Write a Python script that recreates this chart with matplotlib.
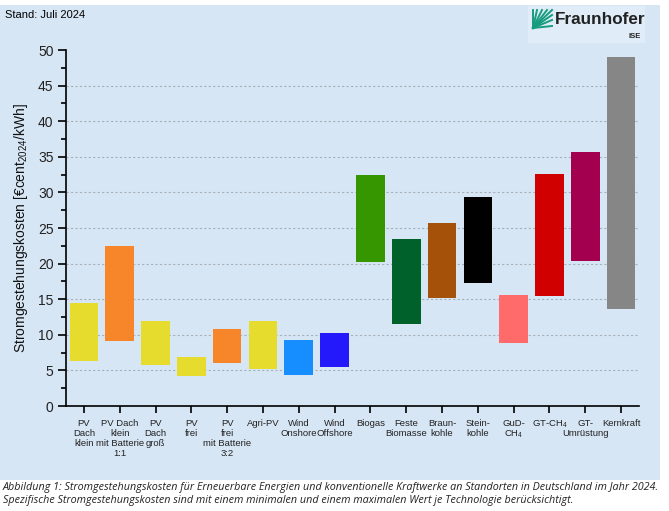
import matplotlib
matplotlib.use("Agg")
import matplotlib.pyplot as plt
from matplotlib.patches import Rectangle
from matplotlib.lines import Line2D
import numpy as np

plt.rcParams['font.family'] = ['Liberation Sans', 'DejaVu Sans']
plt.rcParams['mathtext.fontset'] = 'custom'
plt.rcParams['mathtext.rm'] = 'Liberation Sans'
plt.rcParams['mathtext.it'] = 'Liberation Sans:italic'

categories = ["PV\nDach\nklein", "PV Dach\nklein\nmit Batterie\n1:1", "PV\nDach\ngroß", "PV\nfrei",
              "PV\nfrei\nmit Batterie\n3:2", "Agri-PV", "Wind\nOnshore", "Wind\nOffshore", "Biogas",
              "Feste\nBiomasse", "Braun-\nkohle", "Stein-\nkohle", "GuD-\nCH$_4$", "GT-CH$_4$",
              "GT-\nUmrüstung", "Kernkraft"]
min_values = [6.3, 9.1, 5.7, 4.2, 6.0, 5.2, 4.3, 5.5, 20.2, 11.5, 15.1, 17.3, 8.8, 15.4, 20.4, 13.6]
max_values = [14.4, 22.5, 12.0, 6.9, 10.8, 11.9, 9.2, 10.3, 32.5, 23.5, 25.7, 29.3, 15.6, 32.6, 35.7, 49.0]
colors = ["#e6dc2e", "#f7862a", "#e6dc2e", "#e6dc2e", "#f7862a", "#e6dc2e", "#168eff", "#2319fa",
          "#359600", "#00622a", "#a5510a", "#000000", "#ff6b6b", "#d10000", "#a3004f", "#868686"]

W, H = 669, 511
fig = plt.figure(figsize=(W / 100, H / 100), dpi=100, facecolor="white")

# light blue panel
fig.patches.append(Rectangle((0, 1 - 480 / H), 660 / W, (480 - 5) / H, transform=fig.transFigure,
                             facecolor="#d7e6f5", edgecolor="none", zorder=-10))
# lighter logo box
fig.patches.append(Rectangle((528 / W, 1 - 43 / H), (645 - 528) / W, (43 - 6) / H, transform=fig.transFigure,
                             facecolor="#e0ecf8", edgecolor="none", zorder=-9))

ax = fig.add_axes([66 / W, 1 - 406 / H, (639 - 66) / W, (406 - 50) / H])
ax.set_facecolor("none")
ax.set_zorder(5)

x = np.arange(len(categories))
heights = [mx - mn for mn, mx in zip(min_values, max_values)]
ax.bar(x, heights, bottom=min_values, width=0.8, color=colors, zorder=3)

ax.set_xlim(-0.5, 15.5)
ax.set_ylim(0, 50)
ax.set_yticks(np.arange(0, 51, 5))
ax.set_yticks(np.arange(2.5, 50, 5), minor=True)
ax.tick_params(axis='y', which='major', direction='out', length=6, width=1.2, labelsize=10, pad=3,
               labelcolor="#222222")
ax.tick_params(axis='y', which='minor', direction='out', length=3.5, width=1.2)
ax.set_xticks(x)
ax.set_xticklabels(categories, fontsize=6.8, linespacing=1.15)
ax.tick_params(axis='x', which='major', direction='out', length=5, width=1.2, pad=4, labelcolor="#222222")

for s in ['top', 'right']:
    ax.spines[s].set_visible(False)
for s in ['left', 'bottom']:
    ax.spines[s].set_linewidth(1.2)

for yv in range(5, 50, 5):
    ax.axhline(yv, color="#a8b0b8", linewidth=0.8, linestyle=(0, (2, 2)), zorder=1)

ax.set_ylabel("Stromgestehungskosten [€cent$_{2024}$/kWh]", fontsize=10, labelpad=6, color="#111111")

fig.text(5 / W, 1 - 15 / H, "Stand: Juli 2024", fontsize=8, va="center", ha="left")

# Fraunhofer logo: fan of green lines from lower-left corner
lx0, ly0 = 533, 28     # origin (lower-left)
lx1, ly1 = 552, 10     # upper-right
ends = [(lx1, ly1 + 16), (lx1, ly1 + 10), (lx1, ly1 + 5), (lx1, ly1), (lx1 - 5, ly1), (lx1 - 10, ly1),
        (lx1 - 15, ly1), (lx0, ly1)]
for ex, ey in ends:
    fig.add_artist(Line2D([lx0 / W, ex / W], [1 - ly0 / H, 1 - ey / H],
                          transform=fig.transFigure, color="#179c7d", linewidth=1.4))
fig.text(555 / W, 1 - 20 / H, "Fraunhofer", fontsize=12.3, fontweight="bold", color="#222222",
         va="center", ha="left")
fig.text(641 / W, 1 - 37 / H, "ISE", fontsize=5.5, fontweight="bold", color="#222222",
         va="center", ha="right")

cap = ("Abbildung 1: Stromgestehungskosten für Erneuerbare Energien und konventionelle Kraftwerke an Standorten in Deutschland im Jahr 2024.\n"
       "Spezifische Stromgestehungskosten sind mit einem minimalen und einem maximalen Wert je Technologie berücksichtigt.")
fig.text(3 / W, 1 - 494 / H, cap, fontsize=7.75, style="italic", family=["Open Sans", "DejaVu Sans"],
         va="center", ha="left", color="#222222", linespacing=1.25)

fig.savefig("out.png", dpi=100, facecolor="white")
